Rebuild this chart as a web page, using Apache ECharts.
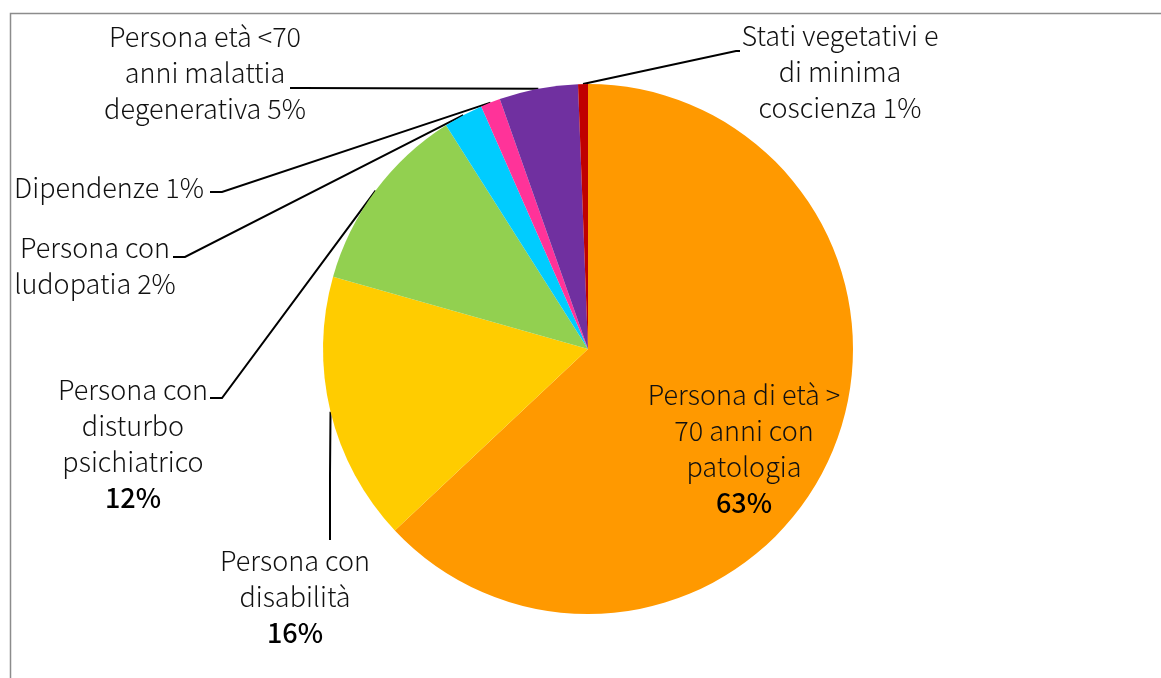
<!DOCTYPE html>
<html>
<head>
<meta charset="utf-8">
<script src="https://cdn.jsdelivr.net/npm/echarts@6/dist/echarts.min.js"></script>
<style>
  html, body { margin: 0; padding: 0; background: #fff; }
  #main { width: 1161px; height: 678px; }
</style>
</head>
<body>
<div id="main"></div>
<script>
// categories, clockwise from 12 o'clock
const names = [
  'Persona di età >\n70 anni con\npatologia',
  'Persona con\ndisabilità',
  'Persona con\ndisturbo\npsichiatrico',
  'Persona con\nludopatia',
  'Dipendenze',
  'Persona età <70\nanni malattia\ndegenerativa',
  'Stati vegetativi e\ndi minima\ncoscienza'
]
const values = [63.0, 16.4, 11.6, 2.4, 1.2, 4.8, 0.6]
const colors = ['#FF9900', '#FFCC00', '#92D050', '#00CCFF', '#FF3399', '#7030A0', '#C00000']
// which labels put the percentage on its own (bold) line
const pctOwnLine = [true, true, true, false, false, false, false]

// label placement (text block centre + knee of the leader line)
const labelPos = [
  { x: 744, y: 449, knee: null },
  { x: 295, y: 597, knee: [[330, 475], [330, 540]] },
  { x: 133, y: 444, knee: [[222, 398], [210, 398]] },
  { x: 95, y: 266, knee: [[185, 257], [173, 257]] },
  { x: 109, y: 188, knee: [[222, 192], [210, 192]] },
  { x: 205, y: 73, knee: [[300, 88], [290, 88]] },
  { x: 840, y: 72, knee: [[736, 51], [740, 51]] }
]

const font = '"Noto Sans CJK SC", "Open Sans", sans-serif'

let chart = echarts.init(document.getElementById('main'))
chart.setOption({
  animation: false,
  graphic: [{
    type: 'polyline',
    shape: { points: [[10.5, 678], [10.5, 13.5], [1161, 13.5]] },
    style: { stroke: '#8c8c8c', lineWidth: 1.5, fill: null }
  }],
  series: [{
    type: 'pie',
    center: [588, 349],
    radius: 265,
    startAngle: 90,
    clockwise: true,
    avoidLabelOverlap: false,
    itemStyle: { borderWidth: 0 },
    label: {
      show: true,
      position: 'outside',
      fontFamily: font,
      fontSize: 27,
      fontWeight: 300,
      color: '#111',
      lineHeight: 36,
      align: 'center',
      formatter: (p) => {
        let pct = Math.round(p.percent) + '%'
        if (pctOwnLine[p.dataIndex]) return p.name + '\n{b|' + pct + '}'
        return p.name + ' ' + pct
      },
      rich: {
        b: { fontFamily: font, fontSize: 27, fontWeight: 500, color: '#000', lineHeight: 36 }
      }
    },
    labelLine: {
      show: true,
      lineStyle: { color: '#000', width: 2 }
    },
    labelLayout: (params) => {
      let pos = labelPos[params.dataIndex]
      let out = { x: pos.x, y: pos.y, align: 'center', verticalAlign: 'middle' }
      if (pos.knee && params.labelLinePoints) {
        out.labelLinePoints = [params.labelLinePoints[0], pos.knee[0], pos.knee[1]]
      }
      return out
    },
    data: names.map((n, i) => ({
      name: n,
      value: values[i],
      itemStyle: { color: colors[i] },
      labelLine: { show: labelPos[i].knee !== null }
    }))
  }]
})
</script>
</body>
</html>
